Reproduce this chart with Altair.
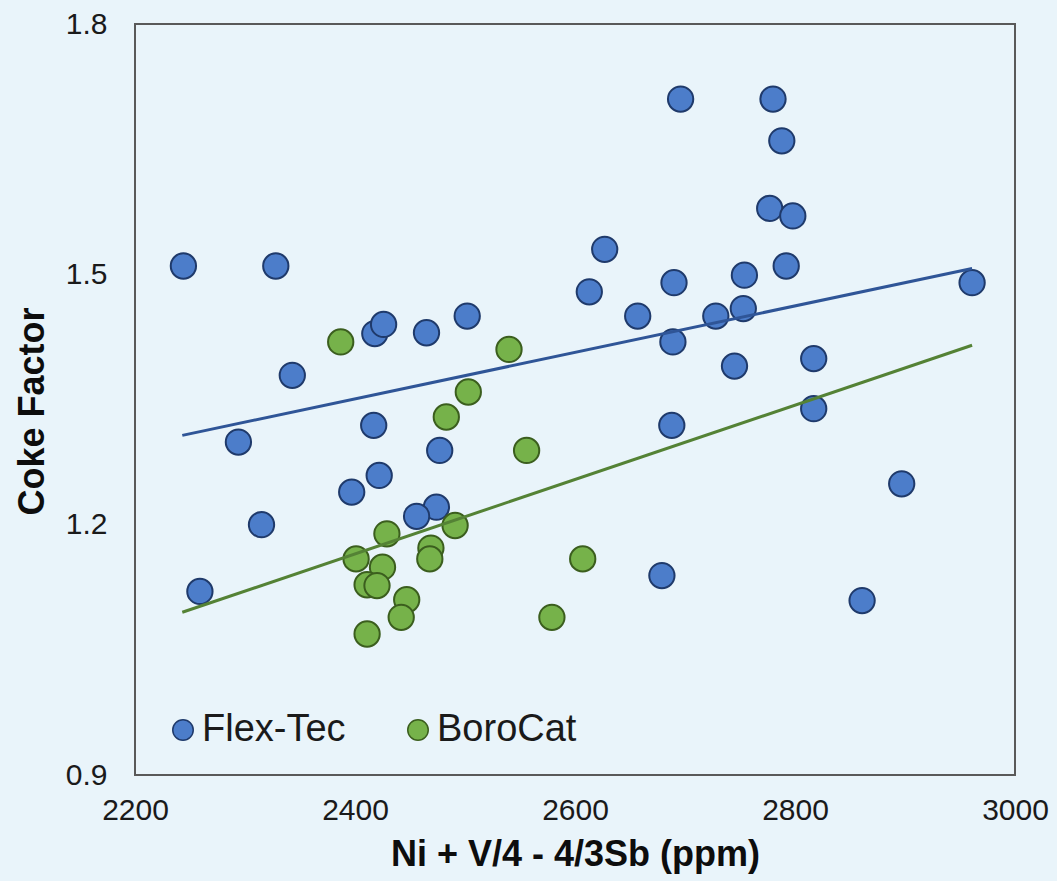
import altair as alt
import pandas as pd

series_names = ["Flex-Tec", "BoroCat"]

flex_x = [2244, 2328, 2418, 2426, 2465, 2502, 2343, 2417, 2294, 2477, 2422, 2397,
          2474, 2456, 2315, 2259, 2696, 2780, 2788, 2777, 2798, 2627, 2792, 2690,
          2754, 2613, 2961, 2657, 2728, 2753, 2689, 2745, 2817, 2688, 2817, 2897,
          2679, 2861]
flex_y = [1.51, 1.51, 1.429, 1.44, 1.43, 1.45, 1.379, 1.319, 1.299, 1.289, 1.259, 1.239,
          1.221, 1.21, 1.20, 1.12, 1.71, 1.71, 1.66, 1.579, 1.57, 1.53, 1.51, 1.49,
          1.499, 1.479, 1.49, 1.45, 1.45, 1.459, 1.419, 1.39, 1.399, 1.319, 1.339, 1.249,
          1.139, 1.109]

boro_x = [2387, 2540, 2503, 2483, 2556, 2491, 2429, 2469, 2468, 2401, 2425, 2411,
          2420, 2447, 2442, 2411, 2607, 2579]
boro_y = [1.419, 1.41, 1.359, 1.329, 1.289, 1.199, 1.189, 1.172, 1.159, 1.159, 1.149, 1.128,
          1.127, 1.11, 1.089, 1.069, 1.159, 1.089]

trend_x = [2243, 2961]
flex_trend_y = [1.307, 1.507]
boro_trend_y = [1.095, 1.415]

x_ticks = [2200, 2400, 2600, 2800, 3000]
y_ticks = [0.9, 1.2, 1.5, 1.8]

fill_colors = ["#4c7dca", "#76b24a"]
stroke_colors = ["#1f3a6b", "#3b5e1e"]
line_colors = ["#2f5597", "#548235"]

points = pd.DataFrame({
    "x": flex_x + boro_x,
    "y": flex_y + boro_y,
    "series": [series_names[0]] * len(flex_x) + [series_names[1]] * len(boro_x),
})
trend = pd.DataFrame({
    "x": trend_x + trend_x,
    "y": flex_trend_y + boro_trend_y,
    "series": [series_names[0]] * 2 + [series_names[1]] * 2,
    "lc": [line_colors[0]] * 2 + [line_colors[1]] * 2,
})

FONT = "Liberation Sans"
xscale = alt.Scale(domain=[2200, 3000], nice=False, zero=False)
yscale = alt.Scale(domain=[0.9, 1.8], nice=False, zero=False)

legend = alt.Legend(
    title=None, orient="none", legendX=29, legendY=687, direction="horizontal",
    labelFontSize=38, labelFont=FONT, labelColor="#1a1a1a", symbolSize=420,
    symbolStrokeWidth=1.5, symbolType="circle", labelOffset=0, columnPadding=53,
    padding=0,
)

pts = alt.Chart(points).mark_circle(size=640, strokeWidth=2, opacity=1).encode(
    x=alt.X("x:Q", scale=xscale,
            axis=alt.Axis(values=x_ticks, title="Ni + V/4 - 4/3Sb (ppm)", format="d",
                          labelPadding=20, titlePadding=12, labelFlush=False)),
    y=alt.Y("y:Q", scale=yscale,
            axis=alt.Axis(values=y_ticks, title="Coke Factor", format=".1f",
                          labelPadding=28, titlePadding=14, labelFlush=False, titleY=387)),
    fill=alt.Fill("series:N", scale=alt.Scale(domain=series_names, range=fill_colors), legend=legend),
    stroke=alt.Stroke("series:N", scale=alt.Scale(domain=series_names, range=stroke_colors), legend=legend),
)

lines = alt.Chart(trend).mark_line(strokeWidth=3).encode(
    x=alt.X("x:Q", scale=xscale),
    y=alt.Y("y:Q", scale=yscale),
    detail="series:N",
    color=alt.Color("lc:N", scale=None),
)

chart = alt.layer(pts, lines).properties(
    width=880, height=751,
    padding={"left": 135, "top": 24, "right": 42, "bottom": 106},
    autosize=alt.AutoSizeParams(type="none"),
    background="#e9f4fa",
).configure_view(
    stroke="#595959", strokeWidth=2
).configure_axis(
    domain=False, ticks=False, grid=False,
    labelFont=FONT, labelFontSize=30, labelColor="#1a1a1a",
    titleFont=FONT, titleFontSize=36, titleFontWeight="bold", titleColor="#0d0d0d",
)

chart.save("out.html", embed_options={"renderer": "svg", "actions": False})
